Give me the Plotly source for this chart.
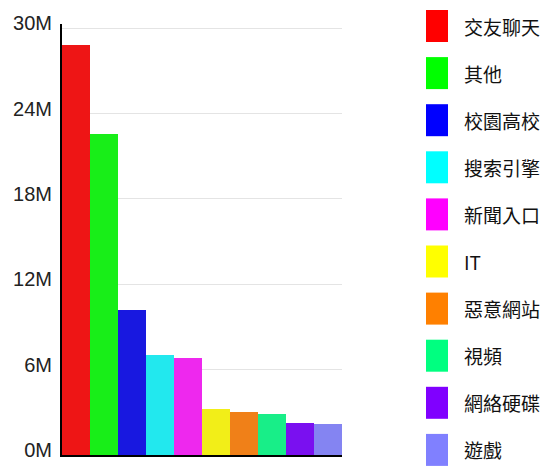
import plotly.graph_objects as go

categories = ["交友聊天", "其他", "校園高校", "搜索引擎", "新聞入口", "IT", "惡意網站", "視頻", "網絡硬碟", "遊戲"]
values = [28.8e6, 22.6e6, 10.2e6, 7.0e6, 6.85e6, 3.2e6, 3.0e6, 2.85e6, 2.25e6, 2.2e6]
colors = ["#ff0000", "#00ff00", "#0000ff", "#00ffff", "#ff00ff", "#ffff00", "#ff8000", "#00ff80", "#8000ff", "#8080ff"]
bar_colors = ["#ee1515", "#18ee18", "#1818e0", "#22e8ee", "#ee28ee", "#f2ee18", "#f08018", "#18ee88", "#7a10f0", "#8484f2"]
tick_vals = [0, 6e6, 12e6, 18e6, 24e6, 30e6]
tick_text = ["0M", "6M", "12M", "18M", "24M", "30M"]

W, H = 549, 470
L, R, T, B = 62, 342, 24, 455

fig = go.Figure()
fig.add_trace(go.Bar(
    x=categories, y=values,
    marker=dict(color=bar_colors, line=dict(width=0)),
    showlegend=False,
))

def px_x(x):
    return (x - L) / (R - L)

def px_y(y):
    return (B - y) / (B - T)

shapes = []
annotations = []
for i, (name, c) in enumerate(zip(categories, colors)):
    cy = 26 + i * 47.1
    shapes.append(dict(type="rect", xref="paper", yref="paper",
                       x0=px_x(426), x1=px_x(448), y0=px_y(cy + 16), y1=px_y(cy - 16),
                       fillcolor=c, line=dict(width=0)))
    annotations.append(dict(xref="paper", yref="paper", x=px_x(462), y=px_y(cy),
                            text=name, showarrow=False, xanchor="left", yanchor="middle",
                            font=dict(family="Noto Sans CJK TC", size=19, color="#111111")))

fig.update_layout(
    template="none",
    width=W, height=H,
    margin=dict(l=L, r=W - R, t=T, b=H - B, pad=0, autoexpand=False),
    paper_bgcolor="white", plot_bgcolor="white",
    bargap=0,
    shapes=shapes, annotations=annotations,
    showlegend=False,
    xaxis=dict(showticklabels=False, ticks="", showgrid=False, showline=True, automargin=False,
               linecolor="black", linewidth=2, range=[-0.5, 9.5], fixedrange=True, zeroline=False),
    yaxis=dict(range=[0, 30.3e6], tickvals=tick_vals, ticktext=tick_text, automargin=False,
               showgrid=True, gridcolor="#e4e4e4", gridwidth=1,
               showline=True, linecolor="black", linewidth=2, zeroline=False,
               ticks="", ticklabelstandoff=4, ticklabelshift=-5, fixedrange=True,
               tickfont=dict(family="Liberation Sans, Arial, sans-serif", size=20, color="#222222")),
)

post = "document.documentElement.style.margin='0';document.body.style.margin='0';"
fig.write_html("out.html", config={"displayModeBar": False, "staticPlot": True}, post_script=post)
